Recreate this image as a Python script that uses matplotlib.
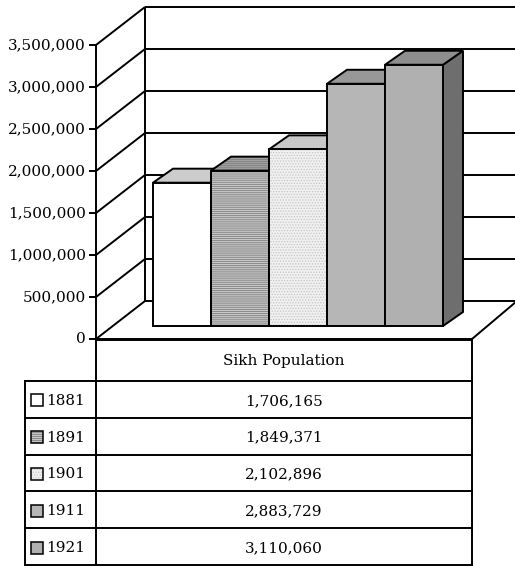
import matplotlib.pyplot as plt
from matplotlib.patches import Polygon

# data
years = ["1881", "1891", "1901", "1911", "1921"]
sikh_population = [1706165, 1849371, 2102896, 2883729, 3110060]
tick_values = [0, 500000, 1000000, 1500000, 2000000, 2500000, 3000000, 3500000]
series_name = "Sikh Population"

# styles per bar: front, top, side, hatch + hatch colour
front_colors = ["#ffffff", "#c8c8c8", "#f0f0f0", "#b6b6b6", "#b0b0b0"]
top_colors = ["#cccccc", "#a0a0a0", "#cacaca", "#989898", "#8e8e8e"]
side_colors = ["#a0a0a0", "#7a7a7a", "#a0a0a0", "#767676", "#6e6e6e"]
hatches = [None, "--------", "......", None, None]
hatch_colors = [None, "#808080", "#c4c4c4", None, None]

W, H = 515, 566
FONT = "DejaVu Serif"
LW = 1.4
plt.rcParams["hatch.linewidth"] = 0.6

fig = plt.figure(figsize=(W / 100, H / 100), dpi=100)
ax = fig.add_axes([0, 0, 1, 1])
ax.axis("off")

# chart axes: x in categories, y in people, oblique depth added by offsets
PX_CAT = 58.0       # px per category
PX_VAL = 84e-6      # px per person
BAR_X0 = 153        # px of first bar's left edge
BASE_PX = 326       # px of zero line in the bar plane
ax.set_xlim(-BAR_X0 / PX_CAT, (W - BAR_X0) / PX_CAT)
ax.set_ylim((BASE_PX - H) / PX_VAL, BASE_PX / PX_VAL)

# depth vectors (data units)
DEP_X, DEP_V = 49 / PX_CAT, 38 / PX_VAL
F_FRONT, F_BACK = -13 / 38, 25 / 38
BAR_DX, BAR_DV = 20 / PX_CAT, 14 / PX_VAL


def at(x, v, f):
    return x + f * DEP_X, v + f * DEP_V


def add_face(target, pts, face, hatch=None, hcolor=None, lw=LW):
    target.add_patch(Polygon(pts, closed=True, facecolor=face, edgecolor="none",
                             lw=0, zorder=2))
    if hatch:
        target.add_patch(Polygon(pts, closed=True, facecolor="none", edgecolor=hcolor,
                                 lw=0, hatch=hatch, zorder=2))
    target.add_patch(Polygon(pts, closed=True, facecolor="none", edgecolor="black",
                             lw=lw, zorder=2, joinstyle="miter"))


XL = (96 - BAR_X0) / PX_CAT - F_FRONT * DEP_X
XR_FRONT = (472 - BAR_X0) / PX_CAT - F_FRONT * DEP_X
XR_BACK = (517 - BAR_X0) / PX_CAT - F_BACK * DEP_X
top = tick_values[-1]
lk = dict(color="black", lw=LW, solid_capstyle="butt", zorder=1)

# back wall gridlines
for t in tick_values:
    x0, y0 = at(XL, t, F_BACK)
    x1, _ = at(XR_BACK, t, F_BACK)
    ax.plot([x0, x1], [y0, y0], **lk)
# left wall diagonals
for t in tick_values:
    xa, ya = at(XL, t, F_FRONT)
    xb, yb = at(XL, t, F_BACK)
    ax.plot([xa, xb], [ya, yb], **lk)
# verticals
for f in (F_FRONT, F_BACK):
    xa, ya = at(XL, 0, f)
    xb, yb = at(XL, top, f)
    ax.plot([xa, xb], [ya, yb], **lk)
# floor
xa, ya = at(XL, 0, F_FRONT)
xb, yb = at(XR_FRONT, 0, F_FRONT)
xc, yc = at(XR_BACK, 0, F_BACK)
ax.plot([xa, xb, xc], [ya, yb, yc], **lk)

# ticks and labels on the front axis
for t in tick_values:
    x, y = at(XL, t, F_FRONT)
    ax.plot([x - 7 / PX_CAT, x], [y, y], **lk)
    ax.text(x - 10 / PX_CAT, y, f"{t:,}", ha="right", va="center",
            fontsize=11, family=FONT)

# bars
for i, v in enumerate(sikh_population):
    x0, x1 = i, i + 1
    add_face(ax, [(x1, 0), (x1 + BAR_DX, BAR_DV), (x1 + BAR_DX, v + BAR_DV), (x1, v)],
             side_colors[i])
    add_face(ax, [(x0, v), (x0 + BAR_DX, v + BAR_DV), (x1 + BAR_DX, v + BAR_DV), (x1, v)],
             top_colors[i], hatches[i], hatch_colors[i])
    add_face(ax, [(x0, 0), (x1, 0), (x1, v), (x0, v)],
             front_colors[i], hatches[i], hatch_colors[i])

# data table in pixel space
tb = fig.add_axes([0, 0, 1, 1])
tb.axis("off")
tb.set_xlim(0, W)
tb.set_ylim(H, 0)
tk = dict(color="black", lw=LW, solid_capstyle="projecting")
T_LEFT, T_MID, T_RIGHT = 25, 96, 472
HEAD_TOP, HEAD_BOT, T_BOT = 340, 381, 565
row_h = (T_BOT - HEAD_BOT) / len(years)

tb.plot([T_MID, T_RIGHT], [HEAD_TOP, HEAD_TOP], **tk)
tb.plot([T_MID, T_MID], [HEAD_TOP, T_BOT], **tk)
tb.plot([T_RIGHT, T_RIGHT], [HEAD_TOP, T_BOT], **tk)
tb.plot([T_LEFT, T_LEFT], [HEAD_BOT, T_BOT], **tk)
for r in range(len(years) + 1):
    y = HEAD_BOT + r * row_h
    tb.plot([T_LEFT, T_RIGHT], [y, y], **tk)
tb.text((T_MID + T_RIGHT) / 2, (HEAD_TOP + HEAD_BOT) / 2, series_name,
        ha="center", va="center", fontsize=11, family=FONT)
for r, (yr, v) in enumerate(zip(years, sikh_population)):
    yc = HEAD_BOT + (r + 0.5) * row_h
    sq = [(31, yc - 5), (43, yc - 5), (43, yc + 7), (31, yc + 7)]
    add_face(tb, sq, front_colors[r], hatches[r], hatch_colors[r], lw=1.1)
    tb.text(46, yc + 1.5, yr, ha="left", va="center", fontsize=11, family=FONT)
    tb.text((T_MID + T_RIGHT) / 2, yc + 1.5, f"{v:,}", ha="center", va="center",
            fontsize=11, family=FONT)

fig.savefig("out.png", dpi=100)
